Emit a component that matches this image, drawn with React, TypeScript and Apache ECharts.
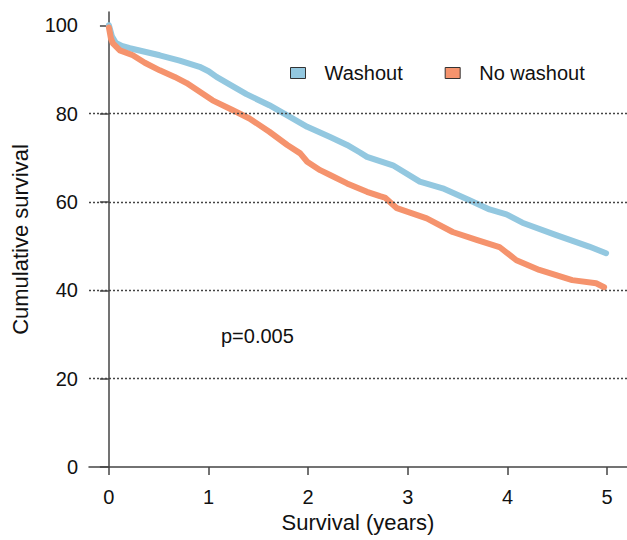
import React, { useEffect, useRef } from "react";
import * as echarts from "echarts";

const seriesNames = ["Washout", "No washout"];

const washoutTime = [0, 0.03, 0.07, 0.13, 0.21, 0.36, 0.51, 0.71, 0.91, 1.0, 1.08, 1.21, 1.38, 1.61, 1.79, 1.99, 2.22, 2.39, 2.52, 2.59, 2.85, 3.12, 3.35, 3.62, 3.82, 3.99, 4.15, 4.49, 4.82, 4.99];
const washoutSurv = [100, 97.5, 96, 95.3, 94.8, 94, 93.2, 92, 90.6, 89.6, 88.3, 86.6, 84.4, 81.9, 79.6, 77, 74.7, 72.9, 71.2, 70.2, 68.3, 64.6, 63.1, 60.4, 58.3, 57.2, 55.3, 52.5, 49.9, 48.4];

const noWashoutTime = [0, 0.02, 0.04, 0.11, 0.24, 0.36, 0.51, 0.66, 0.78, 1.04, 1.24, 1.41, 1.61, 1.79, 1.92, 1.99, 2.12, 2.22, 2.39, 2.59, 2.72, 2.77, 2.89, 3.19, 3.45, 3.69, 3.92, 4.09, 4.32, 4.65, 4.89, 4.97];
const noWashoutSurv = [99.5, 97, 95.9, 94.3, 93.2, 91.5, 89.8, 88.3, 86.9, 83, 80.8, 78.9, 75.9, 72.9, 71, 69.1, 67.2, 66.1, 64.2, 62.3, 61.3, 61, 58.6, 56.3, 53.2, 51.4, 49.8, 46.8, 44.6, 42.3, 41.6, 40.7];

const xTicks = [0, 1, 2, 3, 4, 5];
const yTicks = [0, 20, 40, 60, 80, 100];
const gridValues = [20, 40, 60, 80];
const pValueText = "p=0.005";
const xTitle = "Survival (years)";
const yTitle = "Cumulative survival";

const colors = ["#93c8e0", "#f5936d"];
const FONT = "'Liberation Sans', Arial, sans-serif";
const AXIS_COLOR = "#444";

export default function App() {
  const ref = useRef<HTMLDivElement>(null);
  useEffect(() => {
    if (!ref.current) return;
    const chart = echarts.init(ref.current, undefined, { renderer: "svg" });
    const toPairs = (t: number[], v: number[]) => t.map((x, i) => [x, v[i]]);
    chart.setOption({
      animation: false,
      textStyle: { fontFamily: FONT },
      grid: { left: 89, right: 0, top: 12, bottom: 73, containLabel: false },
      legend: {
        data: seriesNames,
        left: 285,
        top: 58,
        icon: "rect",
        itemWidth: 15,
        itemHeight: 11,
        itemGap: 42,
        itemStyle: { borderColor: "#333", borderWidth: 1 },
        textStyle: { fontSize: 20, color: "#111", fontFamily: FONT, padding: [0, 0, 0, 14] },
      },
      xAxis: {
        type: "value",
        min: -0.2,
        max: 5.2,
        name: xTitle,
        nameLocation: "middle",
        nameGap: 43,
        nameTextStyle: { fontSize: 22, color: "#111", fontFamily: FONT },
        axisLine: { show: true, onZero: false, lineStyle: { color: AXIS_COLOR, width: 1.5 } },
        axisTick: { show: true, customValues: xTicks, length: 8, lineStyle: { color: AXIS_COLOR, width: 1.5 } },
        axisLabel: { customValues: xTicks, fontSize: 20, color: "#111", margin: 20, fontFamily: FONT },
        splitLine: { show: false },
      },
      yAxis: {
        type: "value",
        min: 0,
        max: 103,
        name: yTitle,
        nameLocation: "middle",
        nameGap: 58,
        nameTextStyle: { fontSize: 22, color: "#111", fontFamily: FONT },
        axisLine: { show: true, lineStyle: { color: AXIS_COLOR, width: 1.5 } },
        axisTick: { show: true, customValues: yTicks, length: 9, lineStyle: { color: AXIS_COLOR, width: 1.5 } },
        axisLabel: { customValues: yTicks, fontSize: 20, color: "#111", margin: 11, fontFamily: FONT },
        splitLine: { show: false },
      },
      series: [
        {
          name: seriesNames[0],
          type: "line",
          data: toPairs(washoutTime, washoutSurv),
          showSymbol: false,
          color: colors[0],
          itemStyle: { color: colors[0] },
          lineStyle: { width: 6, color: colors[0], cap: "round", join: "round" },
          markLine: {
            silent: true,
            symbol: "none",
            label: { show: false },
            lineStyle: { type: [2, 2], color: AXIS_COLOR, width: 1.3 },
            data: gridValues.map((v) => ({ yAxis: v })),
          },
          z: 2,
        },
        {
          name: seriesNames[1],
          type: "line",
          data: toPairs(noWashoutTime, noWashoutSurv),
          showSymbol: false,
          color: colors[1],
          itemStyle: { color: colors[1] },
          lineStyle: { width: 6, color: colors[1], cap: "round", join: "round" },
          z: 3,
        },
      ],
      graphic: [
        {
          type: "text",
          left: 221,
          top: 326,
          style: { text: pValueText, fontSize: 20, fill: "#111", fontFamily: FONT },
        },
      ],
    });
    return () => chart.dispose();
  }, []);
  return (
    <div
      ref={ref}
      style={{ position: "fixed", left: 0, top: 0, width: 627, height: 540, background: "#fff" }}
    />
  );
}
